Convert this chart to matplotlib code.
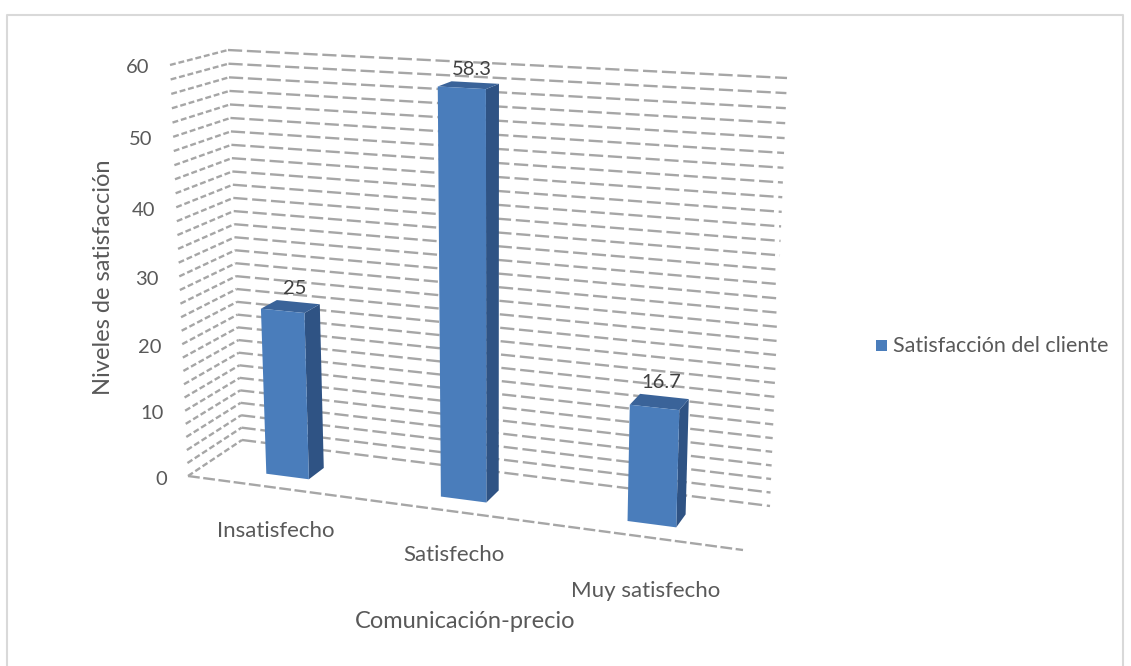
import numpy as np
import matplotlib.pyplot as plt
from matplotlib.patches import Polygon

plt.rcParams['font.family'] = ['Lato', 'DejaVu Sans']

# Data
categories = ["Insatisfecho", "Satisfecho", "Muy satisfecho"]
values = [25, 58.3, 16.7]
series_name = "Satisfacción del cliente"
y_ticks = [0, 10, 20, 30, 40, 50, 60]
y_minor_step = 2
y_max = 60
x_title = "Comunicación-precio"
y_title = "Niveles de satisfacción"

TEXT = "#595959"
GRID = "#a6a6a6"
FRONT = "#4a7dbb"
SIDE = "#2f5384"
TOP = "#3a6399"

W, H = 1131, 666

# Camera: corners of the 3D box (category, value, depth) -> pixel position
box_world = [(0, 0, 0), (0, 0, 1), (0, 60, 1), (0, 60, 0),
             (3, 60, 1), (3, 0, 1), (3, 0, 0)]
box_pixel = [(188, 476), (242, 440), (228, 50), (170, 65),
             (787, 78), (770, 506), (743, 550)]


def fit_camera(world, pixel):
    rows = []
    for (X, Y, Z), (u, v) in zip(world, pixel):
        Y = Y / 20.0
        rows.append([X, Y, Z, 1, 0, 0, 0, 0, -u * X, -u * Y, -u * Z, -u])
        rows.append([0, 0, 0, 0, X, Y, Z, 1, -v * X, -v * Y, -v * Z, -v])
    _, _, vt = np.linalg.svd(np.array(rows, dtype=float))
    return vt[-1].reshape(3, 4)


P = fit_camera(box_world, box_pixel)


def proj(x, y, z):
    p = P @ np.array([x, y / 20.0, z, 1.0])
    return p[0] / p[2], p[1] / p[2]


fig = plt.figure(figsize=(W / 100, H / 100), dpi=100)
ax = fig.add_axes([0, 0, 1, 1])
ax.set_xlim(0, W)
ax.set_ylim(H, 0)
ax.axis('off')

# outer frame
ax.plot([7, 7, 1123, 1123], [H, 15, 15, H], color="#d9d9d9", lw=1.5)

dash_back = (0, (6, 2))
dash_side = (0, (2.5, 1.2))
ncat = len(categories)

# gridlines on left wall and back wall
for gv in np.arange(0, y_max + 0.1, y_minor_step):
    a = proj(0, gv, 0)
    b = proj(0, gv, 1)
    c = proj(ncat, gv, 1)
    ax.plot([a[0], b[0]], [a[1], b[1]], color=GRID, lw=1.7, ls=dash_side, zorder=1)
    ax.plot([b[0], c[0]], [b[1], c[1]], color=GRID, lw=1.7, ls=dash_back, zorder=1)

# front edge of floor
a = proj(0, 0, 0)
b = proj(ncat, 0, 0)
ax.plot([a[0], b[0]], [a[1], b[1]], color=GRID, lw=1.7, ls=(0, (5, 1.5)), zorder=1)

# bars
bw = 0.25
z0, z1 = 0.28, 0.58
for i, v in enumerate(values):
    x0 = i + 0.5 - bw / 2
    x1 = i + 0.5 + bw / 2
    front = [proj(x0, 0, z0), proj(x1, 0, z0), proj(x1, v, z0), proj(x0, v, z0)]
    side = [proj(x1, 0, z0), proj(x1, 0, z1), proj(x1, v, z1), proj(x1, v, z0)]
    top = [proj(x0, v, z0), proj(x1, v, z0), proj(x1, v, z1), proj(x0, v, z1)]
    ax.add_patch(Polygon(side, closed=True, fc=SIDE, ec='none', zorder=3))
    ax.add_patch(Polygon(top, closed=True, fc=TOP, ec='none', zorder=3))
    ax.add_patch(Polygon(front, closed=True, fc=FRONT, ec='none', zorder=4))
    lx, ly = proj(i + 0.5, v, z1)
    ax.text(lx - 3, ly - 5, f"{v:g}", ha='center', va='bottom',
            fontsize=14.5, color="#404040", zorder=5)

# value axis tick labels
for t in y_ticks:
    px, py = proj(0, t, 0)
    ax.text(px - 21, py + 3, str(t), ha='right', va='center', fontsize=14.5, color=TEXT)

# category labels, pushed a little further down toward the right
for i, c in enumerate(categories):
    px, py = proj(i + 0.5, 0, 0)
    ax.text(px + 3, py + 44 + 5 * i * (i - 1), c,
            ha='center', va='center', fontsize=16, color=TEXT)

ax.text(465, 622, x_title, ha='center', va='center', fontsize=17, color=TEXT)
ax.text(103, 277, y_title, ha='center', va='center', rotation=90,
        fontsize=17, color=TEXT)

# legend
ax.add_patch(plt.Rectangle((876, 340), 11, 11, fc=FRONT, ec='none'))
ax.text(893, 346, series_name, ha='left', va='center', fontsize=15.5, color=TEXT)

fig.savefig("out.png", dpi=100)
